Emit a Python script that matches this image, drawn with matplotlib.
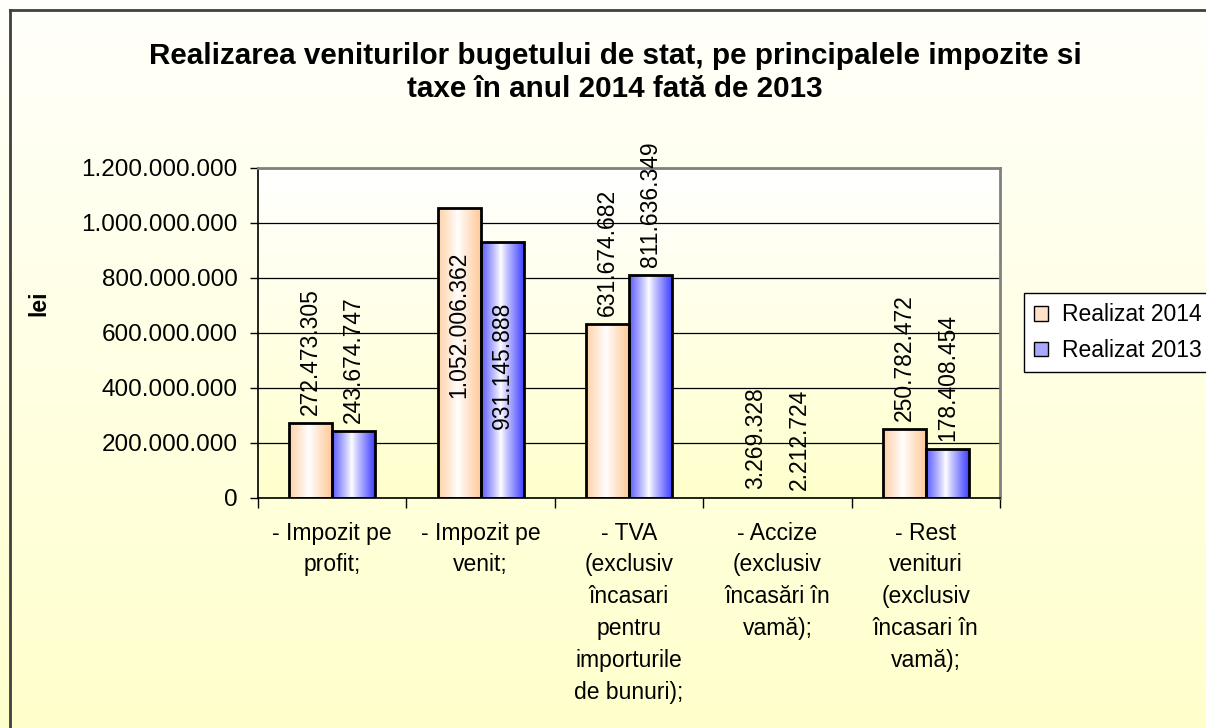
import numpy as np
import matplotlib
matplotlib.use('Agg')
import matplotlib.pyplot as plt
from matplotlib.patches import Patch
from matplotlib.ticker import FuncFormatter

plt.rcParams['font.family'] = ['Liberation Sans', 'DejaVu Sans']

# date
categorii = ['- Impozit pe\nprofit;',
             '- Impozit pe\nvenit;',
             '- TVA\n(exclusiv\nîncasari\npentru\nimporturile\nde bunuri);',
             '- Accize\n(exclusiv\nîncasări în\nvamă);',
             '- Rest\nvenituri\n(exclusiv\nîncasari în\nvamă);']
realizat_2014 = [272473305, 1052006362, 631674682, 3269328, 250782472]
realizat_2013 = [243674747, 931145888, 811636349, 2212724, 178408454]
serii = ['Realizat 2014', 'Realizat 2013']
culori = ['#FFC896', '#3C3CFF']
titlu = 'Realizarea veniturilor bugetului de stat, pe principalele impozite si\ntaxe în anul 2014 fată de 2013'

W, H = 1206, 728
fig = plt.figure(figsize=(W / 100, H / 100), dpi=100)

# fundal cu gradient pentru toata figura
bg = fig.add_axes([0, 0, 1, 1], zorder=-1)
t = np.linspace(0, 1, 256)[:, None]
top_c = np.array([1.0, 1.0, 0.985])
bot_c = np.array([1.0, 1.0, 0.80])
bg.imshow((top_c * (1 - t) + bot_c * t)[:, None, :].repeat(2, axis=1),
          extent=[0, 1, 0, 1], aspect='auto')
bg.plot([10 / W, 10 / W], [0, 1 - 10 / H], color='#404040', lw=2)
bg.plot([10 / W, 1], [1 - 10 / H, 1 - 10 / H], color='#404040', lw=2)
bg.set_xlim(0, 1)
bg.set_ylim(0, 1)
bg.axis('off')

ax = fig.add_axes([258 / W, 1 - 498 / H, (1000 - 258) / W, (498 - 167.7) / H])
ax.set_facecolor('none')

# gradient in zona graficului
top_p = np.array([1.0, 1.0, 1.0])
ax.imshow((top_p * (1 - t) + bot_c * t)[:, None, :].repeat(2, axis=1),
          extent=[0, 1, 0, 1], transform=ax.transAxes, aspect='auto', zorder=0)

x = np.arange(len(categorii))
w = 0.29
bars = []
for k, (vals, c, name) in enumerate(zip([realizat_2014, realizat_2013], culori, serii)):
    off = (k - 0.5) * w
    b = ax.bar(x + off, vals, w, facecolor='none', edgecolor='black', lw=2, zorder=3, label=name)
    bars.append((b, c, vals))

# umplere cu gradient orizontal pe fiecare bara
u = np.linspace(0, 1, 64)
prof = np.clip(np.abs(u - 0.45) / 0.55, 0, 1) ** 0.9
for b, c, vals in bars:
    col = np.array(matplotlib.colors.to_rgb(c))
    img = (np.ones(3) * (1 - prof[:, None]) + col * prof[:, None])[None, :, :]
    for r in b:
        if r.get_height() < 2e7:
            r.set_linewidth(0)  # barele foarte mici nu se vad in original
            continue
        bx, by, bw, bh = r.get_x(), r.get_y(), r.get_width(), r.get_height()
        im = ax.imshow(img, extent=[bx, bx + bw, by, by + bh], aspect='auto', zorder=2.5)
        im.set_clip_path(r)

# etichete cu valori
fmt = lambda v: f'{int(v):,}'.replace(',', '.')
ymax = 1.2e9
for k, (b, c, vals) in enumerate(bars):
    for r, v in zip(b, vals):
        cx = r.get_x() + r.get_width() / 2
        if v > 0.9e9:
            # eticheta nu incape deasupra, se pune in interiorul barei
            ax.annotate(fmt(v), (cx, v), xytext=(0, -31 - 12 * k), textcoords='offset points',
                        rotation=90, ha='center', va='top', fontsize=16.5, zorder=5)
        else:
            ax.annotate(fmt(v), (cx, v), xytext=(0, 5.5), textcoords='offset points',
                        rotation=90, ha='center', va='bottom', fontsize=16.5, zorder=5,
                        annotation_clip=False)

ax.set_xlim(-0.5, len(categorii) - 0.5)
ax.set_ylim(0, ymax)
ax.set_yticks(np.arange(0, ymax + 1, 2e8))
ax.yaxis.set_major_formatter(FuncFormatter(lambda v, p: fmt(v)))
ax.tick_params(axis='y', direction='out', length=6, width=1, pad=8.5, labelsize=17.5)
ax.set_xticks(np.arange(-0.5, len(categorii), 1))
ax.set_xticklabels([])
ax.set_xticks(x, minor=True)
ax.set_xticklabels(categorii, minor=True, fontsize=16.5, linespacing=1.49)
ax.tick_params(axis='x', which='major', direction='out', length=7, width=1)
ax.tick_params(axis='x', which='minor', length=0, pad=17)

ax.grid(axis='y', color='black', lw=0.9, zorder=1)
ax.set_axisbelow(True)
for s in ['top', 'right']:
    ax.spines[s].set_color('#808080')
    ax.spines[s].set_linewidth(2)
for s in ['left', 'bottom']:
    ax.spines[s].set_linewidth(1.2)

ax.set_ylabel('lei', fontsize=16.5, fontweight='bold')
ax.yaxis.set_label_coords(-208 / (1000 - 258), 0.59)

fig.text(615 / W, 1 - 72.5 / H, titlu, ha='center', va='center', fontsize=21.3,
         fontweight='bold', linespacing=1.27)

handles = [Patch(facecolor='#FFE2C8', edgecolor='black', label=serii[0]),
           Patch(facecolor='#A8A8FF', edgecolor='black', label=serii[1])]
fig.legend(handles=handles, loc='upper left', bbox_to_anchor=(1024 / W, 1 - 293 / H),
           fontsize=16.5, frameon=True, fancybox=False, edgecolor='black',
           framealpha=1, borderaxespad=0, handlelength=0.6, handleheight=0.6,
           handletextpad=0.6, labelspacing=0.55, borderpad=0.45)

fig.savefig('out.png', dpi=100)
